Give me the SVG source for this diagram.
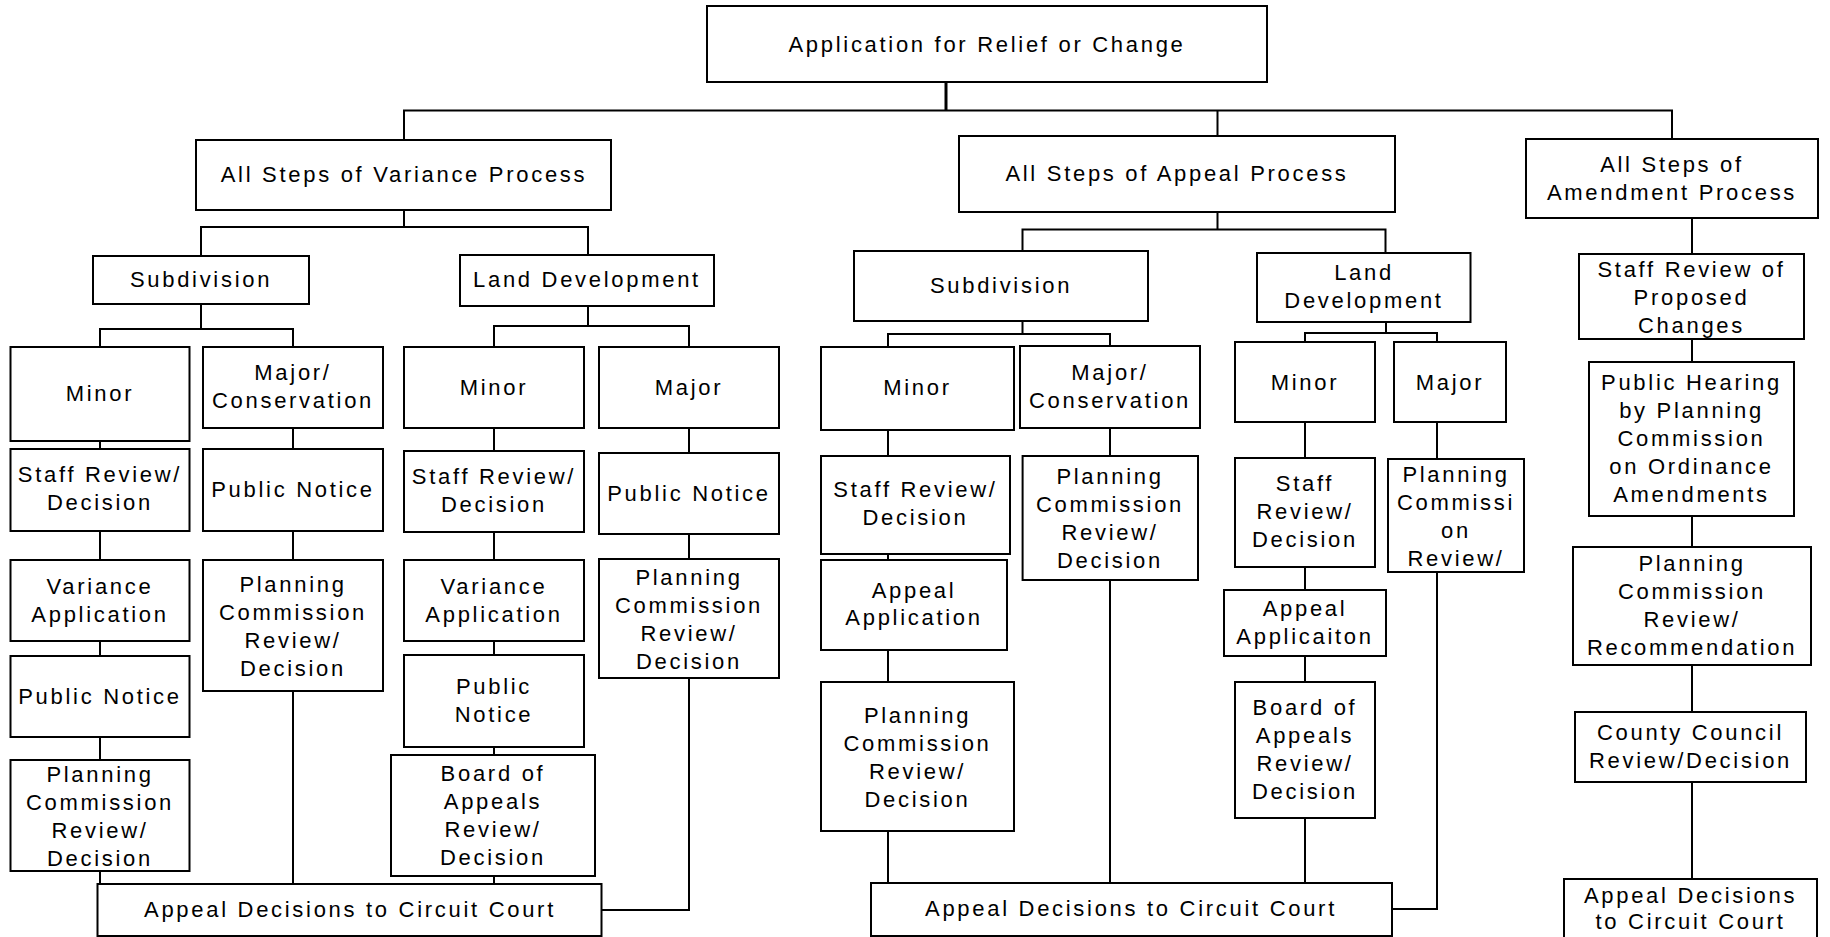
<svg xmlns="http://www.w3.org/2000/svg" width="1830" height="937" viewBox="0 0 1830 937">
<style>
rect{fill:#fff;stroke:#000;stroke-width:2}
.c path{fill:none;stroke:#000;stroke-width:2}
text{font-family:"Liberation Sans",Arial,Helvetica,sans-serif;font-size:22px;letter-spacing:2.7px;text-anchor:middle;fill:#000}
</style>
<rect x="0" y="0" width="1830" height="937" style="stroke:none"/>
<g class="c" id="connectors">
<path d="M946 82V110.5" style="stroke-width:3"/>
<path d="M404 140V110.5H1672V139M1217.5 110.5V136"/>
<path d="M404 210V227M201 256V227H588V255"/>
<path d="M201 304V329M100 347V329H293V347"/>
<path d="M588 306V326M494 347V326H689V347"/>
<path d="M100 441V449M100 531V560M100 641V656M100 737V760M100 871V884"/>
<path d="M293 428V449M293 531V560M293 691V884"/>
<path d="M494 428V451M494 532V560M494 641V655M494 747V755M494 876V884"/>
<path d="M689 428V453M689 534V559M689 678V910H601.6"/>
<path d="M1217.5 212V229.5M1022.5 251V229.5H1385.5V253"/>
<path d="M1022.5 321V334M888 347V334H1110V346"/>
<path d="M1386 322V333M1305 342V333H1437V342"/>
<path d="M888 430V456M888 554V560M888 650V682M888 831V883"/>
<path d="M1110 428V456M1110 580V883"/>
<path d="M1305 422V458M1305 567V590M1305 656V682M1305 818V883"/>
<path d="M1437 422V459M1437 572V909H1392"/>
<path d="M1692 218V254M1692 339V362M1692 516V547M1692 665V712M1692 782V879"/>
</g>
<g id="n-top"><rect x="707" y="6" width="560" height="76"/><text x="987" y="52">Application for Relief or Change</text></g>
<g id="n-variance"><rect x="196" y="140" width="415" height="70"/><text x="404" y="182">All Steps of Variance Process</text></g>
<g id="n-appeal"><rect x="959" y="136" width="436" height="76"/><text x="1177" y="181">All Steps of Appeal Process</text></g>
<g id="n-amend"><rect x="1526" y="139" width="292" height="79"/><text x="1672" y="172">All Steps of</text><text x="1672" y="200">Amendment Process</text></g>

<g id="v-sub"><rect x="93" y="256" width="216" height="48"/><text x="201" y="287">Subdivision</text></g>
<g id="v-ld"><rect x="460" y="255" width="254" height="51"/><text x="587" y="287">Land Development</text></g>
<g id="v-sub-minor"><rect x="10.5" y="347" width="179" height="94"/><text x="100" y="401">Minor</text></g>
<g id="v-sub-major"><rect x="203" y="347" width="180" height="81"/><text x="293" y="380">Major/</text><text x="293" y="408">Conservation</text></g>
<g id="v-ld-minor"><rect x="404" y="347" width="180" height="81"/><text x="494" y="395">Minor</text></g>
<g id="v-ld-major"><rect x="599" y="347" width="180" height="81"/><text x="689" y="395">Major</text></g>

<g id="v1-staff"><rect x="10.5" y="449" width="179" height="82"/><text x="100" y="482">Staff Review/</text><text x="100" y="510">Decision</text></g>
<g id="v1-varapp"><rect x="10.5" y="560" width="179" height="81"/><text x="100" y="594">Variance</text><text x="100" y="622">Application</text></g>
<g id="v1-notice"><rect x="10.5" y="656" width="179" height="81"/><text x="100" y="704">Public Notice</text></g>
<g id="v1-pc"><rect x="10.5" y="760" width="179" height="111"/><text x="100" y="782">Planning</text><text x="100" y="810">Commission</text><text x="100" y="838">Review/</text><text x="100" y="866">Decision</text></g>

<g id="v2-notice"><rect x="203" y="449" width="180" height="82"/><text x="293" y="497">Public Notice</text></g>
<g id="v2-pc"><rect x="203" y="560" width="180" height="131"/><text x="293" y="591.5">Planning</text><text x="293" y="619.5">Commission</text><text x="293" y="647.5">Review/</text><text x="293" y="675.5">Decision</text></g>

<g id="v3-staff"><rect x="404" y="451" width="180" height="81"/><text x="494" y="484">Staff Review/</text><text x="494" y="512">Decision</text></g>
<g id="v3-varapp"><rect x="404" y="560" width="180" height="81"/><text x="494" y="594">Variance</text><text x="494" y="622">Application</text></g>
<g id="v3-notice"><rect x="404" y="655" width="180" height="92"/><text x="494" y="694">Public</text><text x="494" y="722">Notice</text></g>
<g id="v3-board"><rect x="391" y="755" width="204" height="121"/><text x="493" y="780.5">Board of</text><text x="493" y="808.5">Appeals</text><text x="493" y="836.5">Review/</text><text x="493" y="864.5">Decision</text></g>

<g id="v4-notice"><rect x="599" y="453" width="180" height="81"/><text x="689" y="500.5">Public Notice</text></g>
<g id="v4-pc"><rect x="599" y="559" width="180" height="119"/><text x="689" y="584.5">Planning</text><text x="689" y="612.5">Commission</text><text x="689" y="640.5">Review/</text><text x="689" y="668.5">Decision</text></g>

<g id="v-court"><rect x="97.5" y="884" width="504" height="52"/><text x="350" y="917">Appeal Decisions to Circuit Court</text></g>

<g id="a-sub"><rect x="854" y="251" width="294" height="70"/><text x="1001" y="293">Subdivision</text></g>
<g id="a-ld"><rect x="1257" y="253" width="213.5" height="69"/><text x="1364" y="280">Land</text><text x="1364" y="308">Development</text></g>
<g id="a-sub-minor"><rect x="821" y="347" width="193" height="83"/><text x="917.5" y="395">Minor</text></g>
<g id="a-sub-major"><rect x="1020" y="346" width="180" height="82"/><text x="1110" y="380">Major/</text><text x="1110" y="408">Conservation</text></g>
<g id="a-ld-minor"><rect x="1235" y="342" width="140" height="80"/><text x="1305" y="390">Minor</text></g>
<g id="a-ld-major"><rect x="1394" y="342" width="112" height="80"/><text x="1450" y="390">Major</text></g>

<g id="a1-staff"><rect x="821" y="456" width="189" height="98"/><text x="915.5" y="497">Staff Review/</text><text x="915.5" y="525">Decision</text></g>
<g id="a1-app"><rect x="821" y="560" width="186" height="90"/><text x="914" y="597.5">Appeal</text><text x="914" y="625">Application</text></g>
<g id="a1-pc"><rect x="821" y="682" width="193" height="149"/><text x="917.5" y="722.5">Planning</text><text x="917.5" y="750.5">Commission</text><text x="917.5" y="778.5">Review/</text><text x="917.5" y="806.5">Decision</text></g>

<g id="a2-pc"><rect x="1022.6" y="456" width="175.4" height="124"/><text x="1110" y="483.5">Planning</text><text x="1110" y="511.5">Commission</text><text x="1110" y="539.5">Review/</text><text x="1110" y="567.5">Decision</text></g>

<g id="a3-staff"><rect x="1235" y="458" width="140" height="109"/><text x="1305" y="491">Staff</text><text x="1305" y="519">Review/</text><text x="1305" y="547">Decision</text></g>
<g id="a3-app"><rect x="1224" y="590" width="162" height="66"/><text x="1305" y="616">Appeal</text><text x="1305" y="644">Applicaiton</text></g>
<g id="a3-board"><rect x="1235" y="682" width="140" height="136"/><text x="1305" y="715">Board of</text><text x="1305" y="743">Appeals</text><text x="1305" y="771">Review/</text><text x="1305" y="799">Decision</text></g>

<g id="a4-pc"><rect x="1388" y="459" width="136" height="113"/><text x="1456" y="481.5">Planning</text><text x="1456" y="509.5">Commissi</text><text x="1456" y="537.5">on</text><text x="1456" y="565.5">Review/</text></g>

<g id="a-court"><rect x="871" y="883" width="521" height="53"/><text x="1131" y="916">Appeal Decisions to Circuit Court</text></g>

<g id="m-staff"><rect x="1579" y="254" width="225" height="85"/><text x="1691.5" y="276.5">Staff Review of</text><text x="1691.5" y="304.5">Proposed</text><text x="1691.5" y="332.5">Changes</text></g>
<g id="m-hearing"><rect x="1589" y="362" width="205" height="154"/><text x="1691.5" y="389.5">Public Hearing</text><text x="1691.5" y="417.5">by Planning</text><text x="1691.5" y="445.5">Commission</text><text x="1691.5" y="473.5">on Ordinance</text><text x="1691.5" y="501.5">Amendments</text></g>
<g id="m-pc"><rect x="1573" y="547" width="238" height="118"/><text x="1692" y="571">Planning</text><text x="1692" y="599">Commission</text><text x="1692" y="627">Review/</text><text x="1692" y="655">Recommendation</text></g>
<g id="m-council"><rect x="1575" y="712" width="231" height="70"/><text x="1690.5" y="740">County Council</text><text x="1690.5" y="768">Review/Decision</text></g>
<g id="m-court"><rect x="1564" y="879" width="253" height="70"/><text x="1690.5" y="903">Appeal Decisions</text><text x="1690.5" y="929">to Circuit Court</text></g>
</svg>
